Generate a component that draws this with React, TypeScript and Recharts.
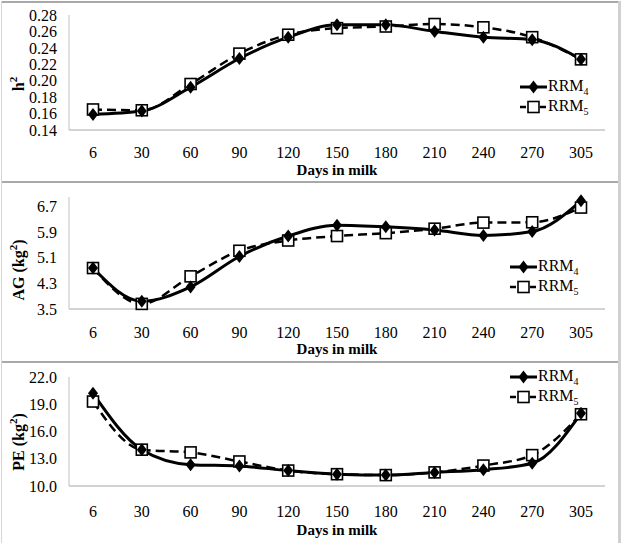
import { LineChart, Line, XAxis, YAxis, Legend } from 'recharts';

const FONT = 'Liberation Serif, "DejaVu Serif", serif';

// days in milk (categories)
const days = ['6', '30', '60', '90', '120', '150', '180', '210', '240', '270', '305'];

// heritability
const h2Rrm4 = [0.159, 0.163, 0.192, 0.227, 0.253, 0.268, 0.268, 0.26, 0.253, 0.25, 0.226];
const h2Rrm5 = [0.165, 0.164, 0.196, 0.233, 0.256, 0.264, 0.266, 0.269, 0.265, 0.253, 0.226];
const h2Ticks = [0.14, 0.16, 0.18, 0.2, 0.22, 0.24, 0.26, 0.28];

// additive genetic variance
const agRrm4 = [4.78, 3.74, 4.19, 5.14, 5.78, 6.12, 6.07, 5.97, 5.8, 5.92, 6.88];
const agRrm5 = [4.78, 3.66, 4.52, 5.32, 5.64, 5.78, 5.87, 6.01, 6.2, 6.21, 6.67];
const agTicks = [3.5, 4.3, 5.1, 5.9, 6.7];

// permanent environment variance
const peRrm4 = [20.2, 14.0, 12.35, 12.2, 11.7, 11.3, 11.2, 11.5, 11.8, 12.5, 18.0];
const peRrm5 = [19.3, 14.0, 13.7, 12.7, 11.7, 11.3, 11.2, 11.5, 12.25, 13.4, 17.9];
const peTicks = [10, 13, 16, 19, 22];

function buildRows(a: number[], b: number[]) {
  return days.map((d, i) => ({ day: d, RRM4: a[i], RRM5: b[i] }));
}

const diamondDot = (p: any) => (
  <path
    key={`dm-${p.index}`}
    d={`M${p.cx},${p.cy - 6.5}L${p.cx + 5},${p.cy}L${p.cx},${p.cy + 6.5}L${p.cx - 5},${p.cy}Z`}
    fill="#000"
  />
);

const squareDot = (p: any) => (
  <rect key={`sq-${p.index}`} x={p.cx - 5.5} y={p.cy - 5.5} width={11} height={11} fill="#fff" stroke="#000" strokeWidth={1.6} />
);

const renderLegend = ({ payload }: any) => {
  const items = [...(payload || [])].sort((a: any, b: any) => String(a.value).localeCompare(String(b.value)));
  return (
    <div style={{ fontFamily: FONT, fontSize: 16, color: '#000' }}>
      {items.map((it: any) => {
        const dashed = it.value === 'RRM5';
        const name = String(it.value);
        return (
          <div key={name} style={{ display: 'flex', alignItems: 'center', height: 20, lineHeight: '20px' }}>
            <svg width={27} height={20}>
              <line x1={0} x2={27} y1={10} y2={10} stroke="#000" strokeWidth={dashed ? 2.5 : 3} strokeDasharray={dashed ? '6 4' : undefined} />
              {dashed ? (
                <rect x={8} y={4.5} width={11} height={11} fill="#fff" stroke="#000" strokeWidth={1.6} />
              ) : (
                <path d="M13.5,3.5L18.5,10L13.5,16.5L8.5,10Z" fill="#000" />
              )}
            </svg>
            <span style={{ marginLeft: 1 }}>
              {name.slice(0, 3)}
              <span style={{ fontSize: 10, position: 'relative', top: 4 }}>{name.slice(3)}</span>
            </span>
          </div>
        );
      })}
    </div>
  );
};

interface PanelProps {
  rows: any[];
  domain: [number, number];
  ticks: number[];
  decimals: number;
  title: string;
  sup?: string;
  tail?: string;
  top: number;
  height: number;
  marginTop: number;
  plotBottom: number;
  tickGap: number;
  labelGap: number;
  titleY: number;
  legendLeft: number;
  legendTop: number;
}

function Panel(p: PanelProps) {
  const xLabel = (lp: any) => {
    const vb = lp.viewBox || {};
    return (
      <text x={vb.x + vb.width / 2} y={vb.y + p.labelGap} textAnchor="middle" dominantBaseline="central"
        fontFamily={FONT} fontSize={15} fontWeight="bold" fill="#000">
        Days in milk
      </text>
    );
  };
  const yLabel = () => (
    <text x={17} y={p.titleY} transform={`rotate(-90, 17, ${p.titleY})`} textAnchor="middle" dominantBaseline="central"
      fontFamily={FONT} fontSize={16} fontWeight="bold" fill="#000">
      {p.title}
      {p.sup && <tspan dy={-5} fontSize={11}>{p.sup}</tspan>}
      {p.tail && <tspan dy={5}>{p.tail}</tspan>}
    </text>
  );

  return (
    <div style={{ position: 'absolute', left: 1, top: p.top }}>
      <LineChart width={617} height={p.height} data={p.rows} margin={{ top: p.marginTop, right: 13, left: 0, bottom: 0 }}>
        <XAxis dataKey="day" height={p.height - p.plotBottom} interval={0} padding={{ left: 24, right: 24 }}
          tickLine={false} tickSize={0} tickMargin={p.tickGap} axisLine={{ stroke: '#a6a6a6' }}
          tick={{ fontSize: 16, fill: '#000', fontFamily: FONT }} label={xLabel} />
        <YAxis width={68} domain={p.domain} ticks={p.ticks} interval={0} tickFormatter={(v: number) => v.toFixed(p.decimals)}
          tickLine={false} tickSize={0} tickMargin={12} axisLine={{ stroke: '#c0c0c0' }}
          tick={{ fontSize: 16, fill: '#000', fontFamily: FONT }} label={yLabel} />
        <Legend layout="vertical" align="center" verticalAlign="middle" content={renderLegend}
          wrapperStyle={{ left: p.legendLeft, top: p.legendTop, width: 90, height: 40 }} />
        <Line type="monotone" dataKey="RRM5" name="RRM5" stroke="#000" strokeWidth={2.5} strokeDasharray="9 5"
          dot={squareDot} activeDot={false} isAnimationActive={false} />
        <Line type="monotone" dataKey="RRM4" name="RRM4" stroke="#000" strokeWidth={3}
          dot={diamondDot} activeDot={false} isAnimationActive={false} />
      </LineChart>
    </div>
  );
}

const hLine = (top: number) => (
  <div key={`hl-${top}`} style={{ position: 'absolute', left: 1, top, width: 620, height: 2, background: '#a9a9a9' }} />
);

export default function App() {
  return (
    <div style={{ position: 'absolute', left: 0, top: 0, width: 624, height: 549, background: '#fff', overflow: 'hidden' }}>
      <Panel rows={buildRows(h2Rrm4, h2Rrm5)} domain={[0.14, 0.28]} ticks={h2Ticks} decimals={2}
        title="h" sup="2" top={1} height={181} marginTop={14} plotBottom={129} tickGap={17} labelGap={40}
        titleY={83} legendLeft={519} legendTop={76} />
      <Panel rows={buildRows(agRrm4, agRrm5)} domain={[3.5, 7.0]} ticks={agTicks} decimals={1}
        title="AG (kg" sup="2" tail=")" top={182} height={180} marginTop={15} plotBottom={127} tickGap={18} labelGap={40}
        titleY={88} legendLeft={509} legendTop={75} />
      <Panel rows={buildRows(peRrm4, peRrm5)} domain={[10, 22]} ticks={peTicks} decimals={1}
        title="PE (kg" sup="2" tail=")" top={362} height={181} marginTop={15} plotBottom={124} tickGap={20} labelGap={44}
        titleY={80} legendLeft={509} legendTop={5} />
      {hLine(1)}
      {hLine(181)}
      {hLine(361)}
      <div style={{ position: 'absolute', left: 1, top: 1, width: 1, height: 542, background: '#d6d6d6' }} />
      <div style={{ position: 'absolute', left: 618, top: 1, width: 3, height: 542, background: '#d0d0d0' }} />
    </div>
  );
}
